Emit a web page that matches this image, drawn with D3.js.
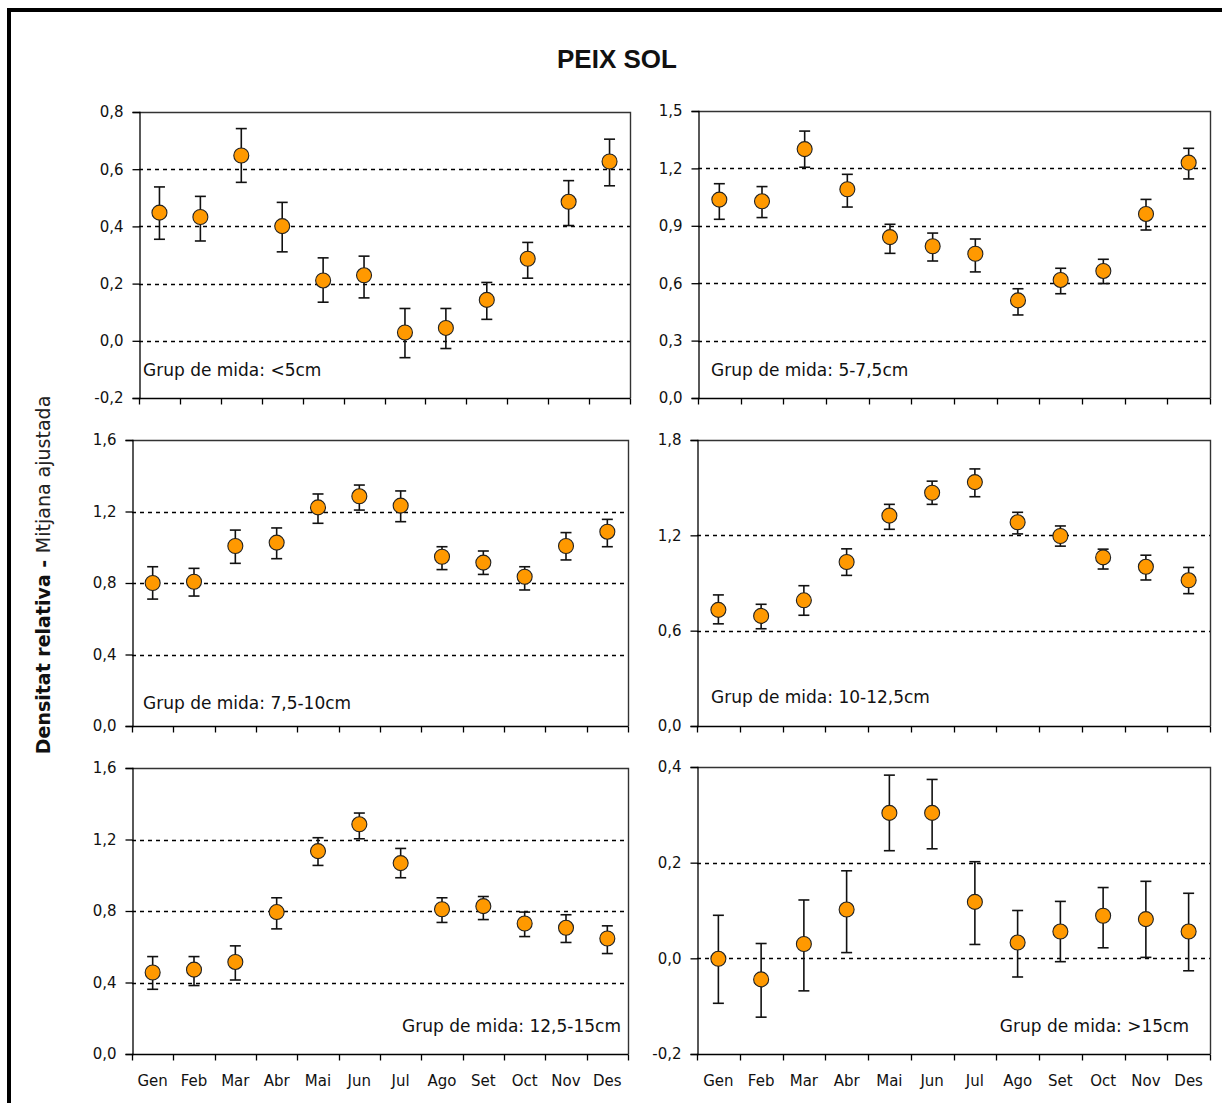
<!DOCTYPE html>
<html>
<head>
<meta charset="utf-8">
<script src="https://cdn.jsdelivr.net/npm/d3@7"></script>
<style>
  html, body { margin: 0; padding: 0; background: #fff; }
  svg { display: block; }
  text { font-family: "DejaVu Sans", sans-serif; fill: #111; }
</style>
</head>
<body>
<svg id="chart" width="1222" height="1103"></svg>
<script>
// ---------- DATA ----------
const months = ["Gen","Feb","Mar","Abr","Mai","Jun","Jul","Ago","Set","Oct","Nov","Des"];
const panelLabels = ["Grup de mida: <5cm","Grup de mida: 5-7,5cm","Grup de mida: 7,5-10cm",
                     "Grup de mida: 10-12,5cm","Grup de mida: 12,5-15cm","Grup de mida: >15cm"];

// <5cm
const meanA = [0.448,0.433,0.648,0.401,0.211,0.229,0.029,0.045,0.143,0.287,0.486,0.627];
const hiA   = [0.538,0.505,0.742,0.484,0.290,0.296,0.113,0.113,0.204,0.344,0.560,0.705];
const loA   = [0.355,0.349,0.554,0.311,0.135,0.150,-0.059,-0.027,0.075,0.219,0.403,0.542];
const ticksA = [-0.2,0.0,0.2,0.4,0.6,0.8];
// 5-7,5cm
const meanB = [1.037,1.028,1.301,1.091,0.841,0.793,0.754,0.510,0.617,0.664,0.962,1.230];
const hiB   = [1.120,1.105,1.395,1.169,0.908,0.862,0.831,0.571,0.678,0.725,1.038,1.305];
const loB   = [0.934,0.943,1.206,0.998,0.756,0.716,0.659,0.434,0.545,0.598,0.878,1.145];
const ticksB = [0.0,0.3,0.6,0.9,1.2,1.5];
// 7,5-10cm
const meanC = [0.800,0.807,1.007,1.026,1.223,1.285,1.233,0.947,0.914,0.835,1.007,1.087];
const hiC   = [0.891,0.882,1.096,1.108,1.298,1.348,1.315,1.003,0.979,0.891,1.082,1.156];
const loC   = [0.710,0.727,0.910,0.936,1.134,1.208,1.143,0.875,0.848,0.761,0.929,1.003];
const ticksC = [0.0,0.4,0.8,1.2,1.6];
// 10-12,5cm
const meanD = [0.731,0.693,0.791,1.032,1.324,1.468,1.535,1.282,1.196,1.061,1.002,0.917];
const hiD   = [0.825,0.766,0.883,1.115,1.395,1.541,1.618,1.345,1.259,1.113,1.075,0.998];
const loD   = [0.643,0.612,0.697,0.948,1.238,1.395,1.443,1.209,1.132,0.988,0.919,0.833];
const ticksD = [0.0,0.6,1.2,1.8];
// 12,5-15cm
const meanE = [0.456,0.472,0.515,0.794,1.135,1.285,1.068,0.810,0.827,0.730,0.706,0.646];
const hiE   = [0.545,0.545,0.605,0.874,1.210,1.348,1.150,0.874,0.881,0.794,0.779,0.717];
const loE   = [0.362,0.383,0.414,0.700,1.055,1.204,0.986,0.736,0.752,0.657,0.624,0.562];
const ticksE = [0.0,0.4,0.8,1.2,1.6];
// >15cm
const meanF = [-0.001,-0.044,0.030,0.102,0.304,0.304,0.118,0.033,0.056,0.089,0.082,0.056];
const hiF   = [0.090,0.031,0.122,0.183,0.383,0.374,0.202,0.100,0.119,0.148,0.161,0.136];
const loF   = [-0.094,-0.123,-0.068,0.012,0.225,0.229,0.029,-0.039,-0.007,0.022,0.002,-0.026];
const ticksF = [-0.2,0.0,0.2,0.4];

const titleText = "PEIX SOL";
const yTitleBold = "Densitat relativa - ";
const yTitleNormal = "Mitjana ajustada";

// ---------- LAYOUT ----------
const panels = [
  {mean: meanA, hi: hiA, lo: loA, ticks: ticksA, x0: 139, x1: 630, y0: 112, y1: 398, lab: 0, align: "start", lx: 143, lb: 376, showX: false},
  {mean: meanB, hi: hiB, lo: loB, ticks: ticksB, x0: 698, x1: 1210, y0: 111, y1: 398, lab: 1, align: "start", lx: 711, lb: 376, showX: false},
  {mean: meanC, hi: hiC, lo: loC, ticks: ticksC, x0: 132, x1: 628, y0: 440, y1: 726, lab: 2, align: "start", lx: 143, lb: 709, showX: false},
  {mean: meanD, hi: hiD, lo: loD, ticks: ticksD, x0: 697, x1: 1210, y0: 440, y1: 726, lab: 3, align: "start", lx: 711, lb: 703, showX: false},
  {mean: meanE, hi: hiE, lo: loE, ticks: ticksE, x0: 132, x1: 628, y0: 768, y1: 1054, lab: 4, align: "end", lx: 621, lb: 1032, showX: true},
  {mean: meanF, hi: hiF, lo: loF, ticks: ticksF, x0: 697, x1: 1210, y0: 767, y1: 1054, lab: 5, align: "end", lx: 1189, lb: 1032, showX: true}
];

const svg = d3.select("#chart");
const fmt = v => d3.format(".1f")(v).replace(".", ",").replace("−", "-");

// outer frame (top & left thick lines)
svg.append("rect").attr("x", 7).attr("y", 8).attr("width", 1222 - 7).attr("height", 4).attr("fill", "#000");
svg.append("rect").attr("x", 7).attr("y", 8).attr("width", 4).attr("height", 1103 - 8).attr("fill", "#000");

// title
svg.append("text").attr("x", 617).attr("y", 68).attr("text-anchor", "middle")
  .style("font-family", "'Liberation Sans', Arial, sans-serif")
  .style("font-weight", "bold").style("font-size", "26px").text(titleText);

// y title
const yt = svg.append("text")
  .attr("transform", "translate(50,575) rotate(-90)")
  .attr("text-anchor", "middle")
  .style("font-size", "19px");
yt.append("tspan").style("font-weight", "bold").text(yTitleBold);
yt.append("tspan").style("font-weight", "normal").attr("fill", "#222").text(yTitleNormal);

panels.forEach(p => {
  const g = svg.append("g");
  const x = d3.scaleBand().domain(months).range([p.x0, p.x1]).padding(0);
  const y = d3.scaleLinear().domain([p.ticks[0], p.ticks[p.ticks.length - 1]]).range([p.y1, p.y0]);

  // grid lines (dashed), not at bottom/top
  g.selectAll("line.grid").data(p.ticks.slice(1, -1)).enter().append("line")
    .attr("x1", p.x0).attr("x2", p.x1)
    .attr("y1", d => Math.round(y(d)) + 0.5).attr("y2", d => Math.round(y(d)) + 0.5)
    .attr("stroke", "#000").attr("stroke-width", 1.3).attr("stroke-dasharray", "4,4");

  // top and right border
  g.append("path")
    .attr("d", `M${p.x0},${p.y0 + 0.5}H${p.x1 + 0.5}V${p.y1}`)
    .attr("fill", "none").attr("stroke", "#333").attr("stroke-width", 1.4);

  // y axis
  const yAxis = d3.axisLeft(y).tickValues(p.ticks).tickFormat(fmt).tickSize(7).tickPadding(9);
  const ya = g.append("g").attr("transform", `translate(${p.x0 + 0.5},0)`).call(yAxis);
  ya.select(".domain").attr("stroke", "#000").attr("stroke-width", 1.3);
  ya.selectAll(".tick line").attr("stroke", "#000").attr("stroke-width", 1.3);
  ya.selectAll(".tick text").style("font-family", "'DejaVu Sans', sans-serif").style("font-size", "15px").attr("fill", "#222");

  // x axis with ticks between categories
  const xa = g.append("g").attr("transform", `translate(0,${p.y1 + 0.5})`);
  xa.append("line").attr("x1", p.x0).attr("x2", p.x1 + 0.5).attr("stroke", "#000").attr("stroke-width", 1.3);
  const bounds = months.map(m => x(m)).concat([p.x1]);
  xa.selectAll("line.xt").data(bounds).enter().append("line")
    .attr("x1", d => Math.round(d) + 0.5).attr("x2", d => Math.round(d) + 0.5)
    .attr("y1", 0).attr("y2", 6).attr("stroke", "#000").attr("stroke-width", 1.3);
  if (p.showX) {
    xa.selectAll("text").data(months).enter().append("text")
      .attr("x", d => x(d) + x.bandwidth() / 2).attr("y", 31)
      .attr("text-anchor", "middle").style("font-size", "15px").attr("fill", "#222").text(d => d);
  }

  // panel label
  g.append("text").attr("x", p.lx).attr("y", p.lb).attr("text-anchor", p.align)
    .style("font-size", "17px").attr("fill", "#222").text(panelLabels[p.lab]);

  // error bars
  const cx = i => x(months[i]) + x.bandwidth() / 2;
  const eb = g.selectAll("g.eb").data(p.mean).enter().append("g");
  eb.append("line").attr("x1", (d, i) => cx(i)).attr("x2", (d, i) => cx(i))
    .attr("y1", (d, i) => y(p.hi[i])).attr("y2", (d, i) => y(p.lo[i]))
    .attr("stroke", "#111").attr("stroke-width", 1.6);
  eb.append("line").attr("x1", (d, i) => cx(i) - 5.5).attr("x2", (d, i) => cx(i) + 5.5)
    .attr("y1", (d, i) => y(p.hi[i])).attr("y2", (d, i) => y(p.hi[i]))
    .attr("stroke", "#111").attr("stroke-width", 1.6);
  eb.append("line").attr("x1", (d, i) => cx(i) - 5.5).attr("x2", (d, i) => cx(i) + 5.5)
    .attr("y1", (d, i) => y(p.lo[i])).attr("y2", (d, i) => y(p.lo[i]))
    .attr("stroke", "#111").attr("stroke-width", 1.6);
  // markers
  g.selectAll("circle.pt").data(p.mean).enter().append("circle")
    .attr("cx", (d, i) => cx(i)).attr("cy", d => y(d)).attr("r", 7.5)
    .attr("fill", "#FF9900").attr("stroke", "#222").attr("stroke-width", 1.1);
});
</script>
</body>
</html>
